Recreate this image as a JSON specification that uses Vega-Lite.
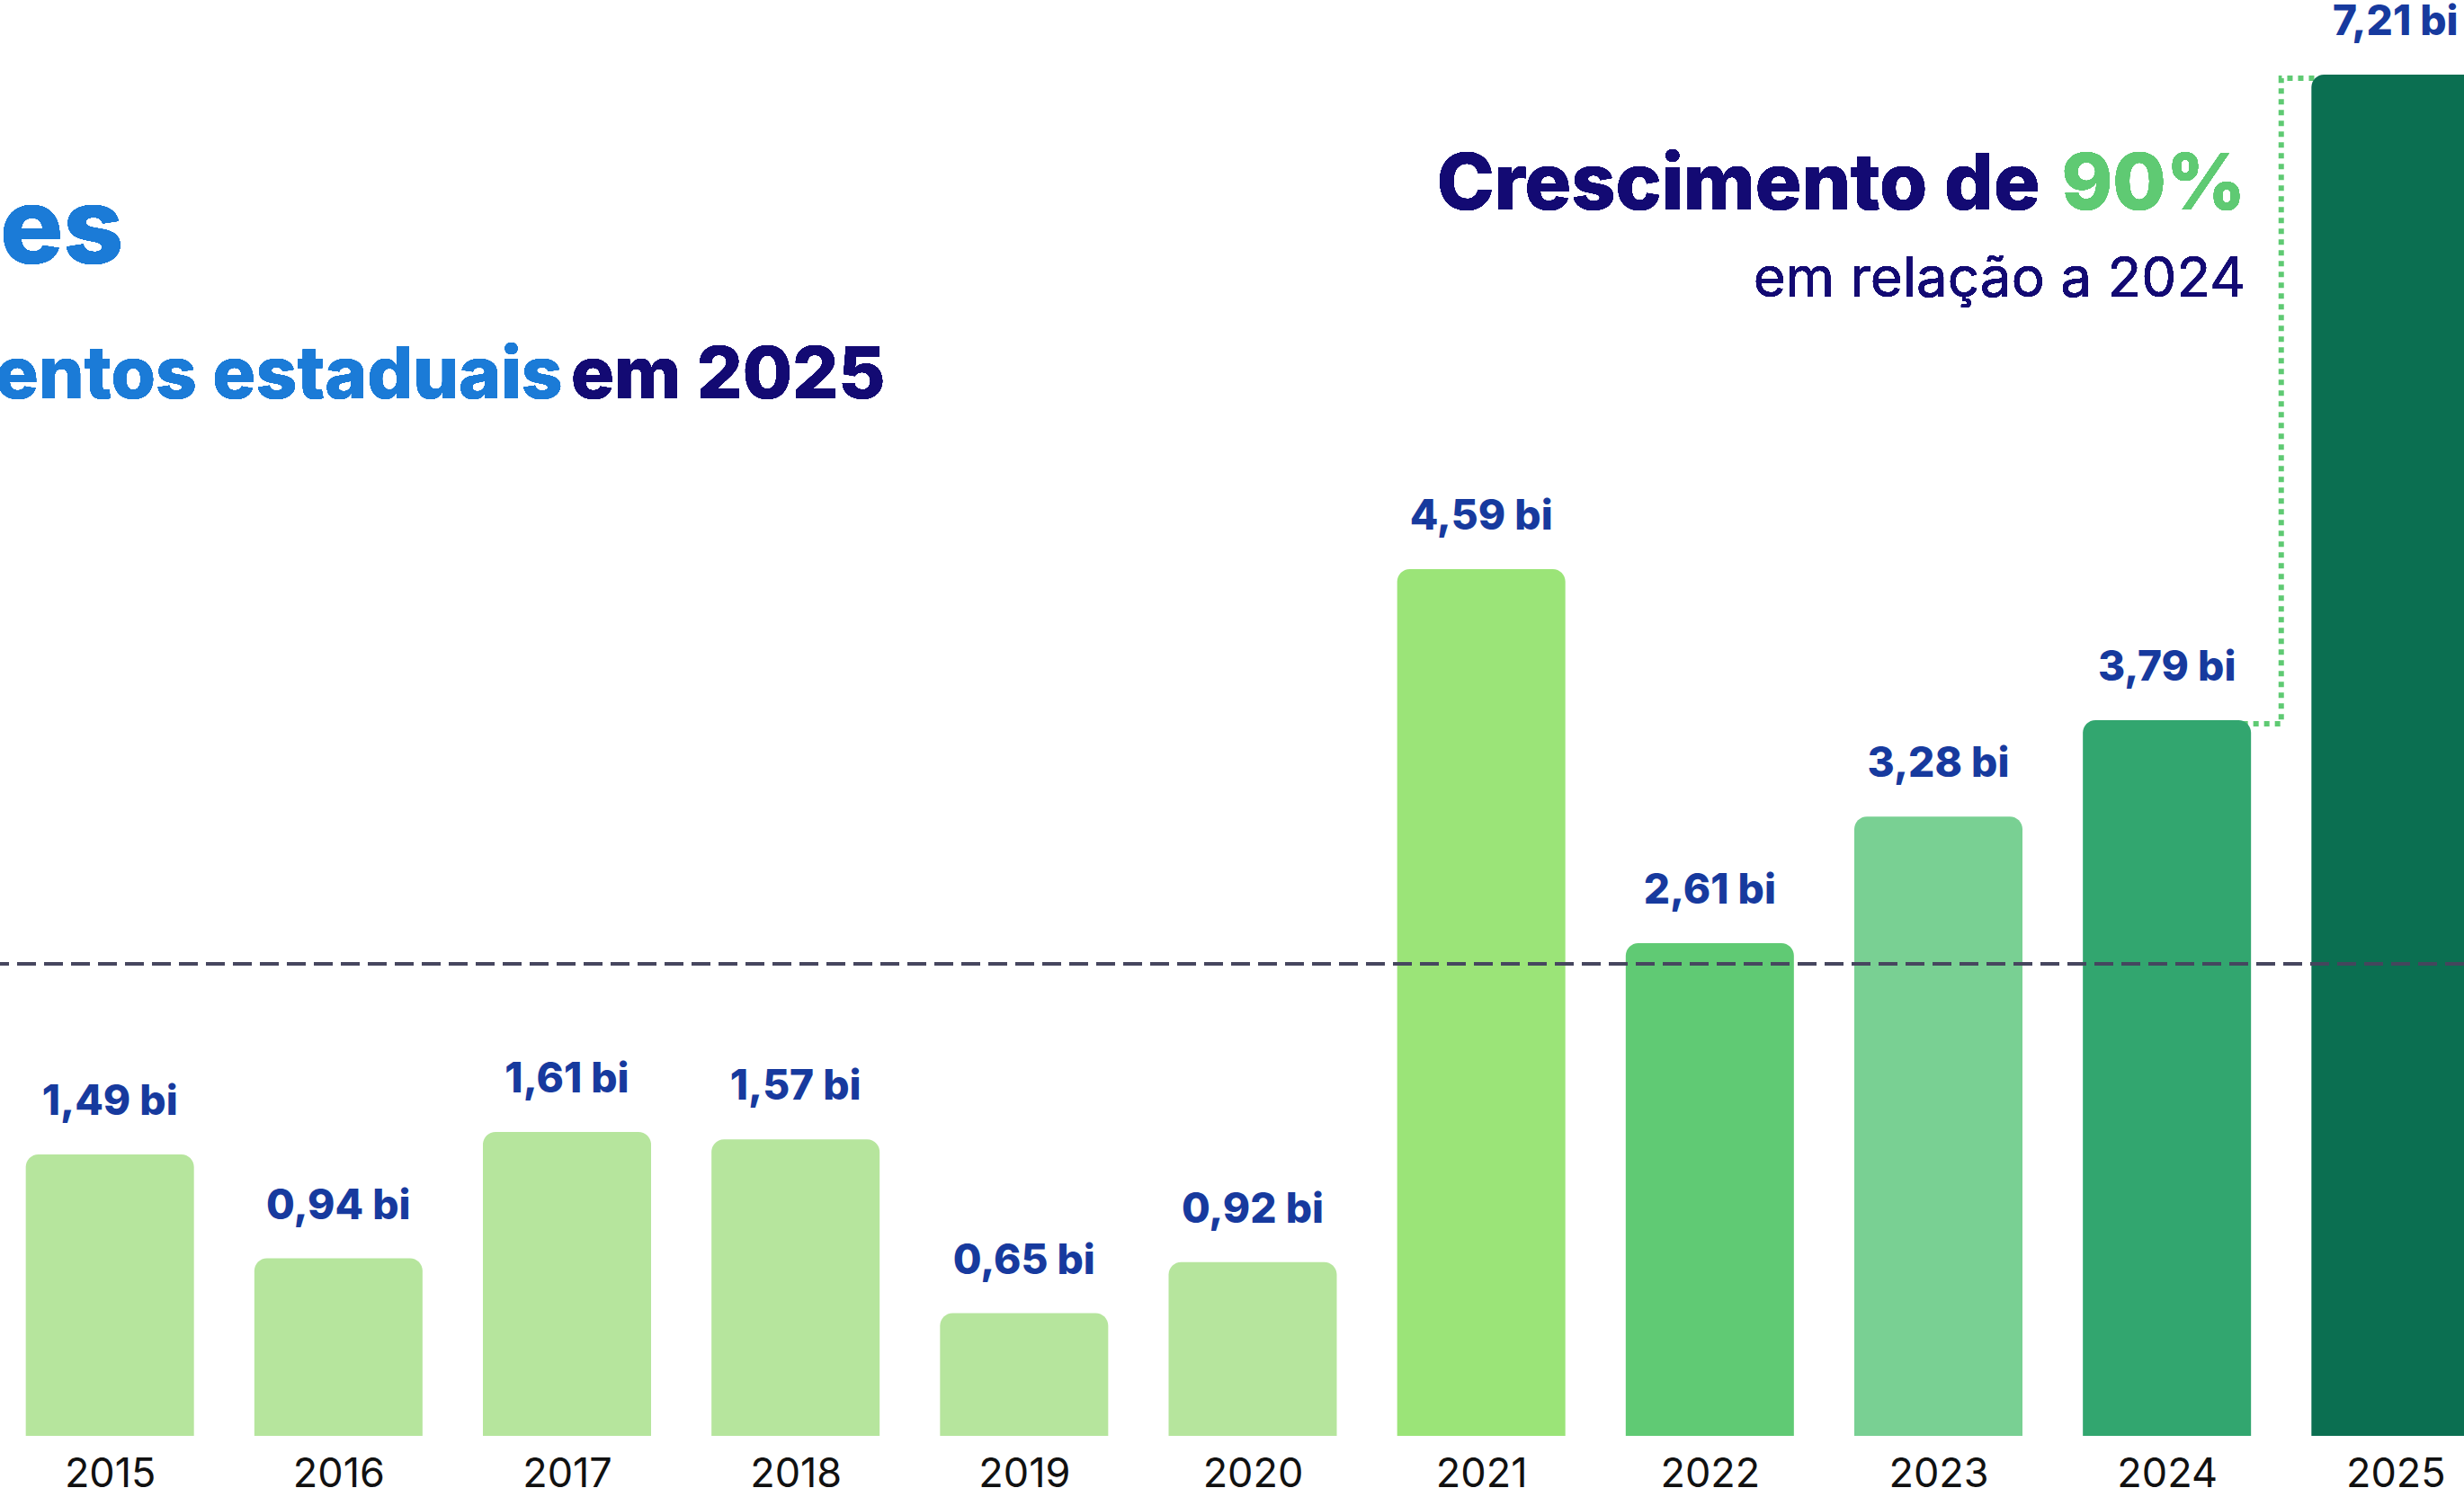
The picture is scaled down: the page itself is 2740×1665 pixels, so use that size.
{
  "$schema": "https://vega.github.io/schema/vega-lite/v6.json",
  "width": 2740,
  "height": 1665,
  "autosize": {"type": "none"},
  "padding": 0,
  "background": "#ffffff",
  "config": {"view": {"stroke": null}, "font": "Inter"},
  "datasets": {
    "invest": [
      {"year": 2015, "value": 1.49, "label": "1,49 bi"},
      {"year": 2016, "value": 0.94, "label": "0,94 bi"},
      {"year": 2017, "value": 1.61, "label": "1,61 bi"},
      {"year": 2018, "value": 1.57, "label": "1,57 bi"},
      {"year": 2019, "value": 0.65, "label": "0,65 bi"},
      {"year": 2020, "value": 0.92, "label": "0,92 bi"},
      {"year": 2021, "value": 4.59, "label": "4,59 bi"},
      {"year": 2022, "value": 2.61, "label": "2,61 bi"},
      {"year": 2023, "value": 3.28, "label": "3,28 bi"},
      {"year": 2024, "value": 3.79, "label": "3,79 bi"},
      {"year": 2025, "value": 7.21, "label": "7,21 bi"}
    ]
  },
  "data": {"name": "invest"},
  "layer": [
    {
      "transform": [{"filter": "datum.year >= 2024"}],
      "mark": {"type": "line", "interpolate": "step", "strokeDash": [6, 6], "strokeWidth": 6, "color": "#5fca73", "yOffset": 4},
      "encoding": {
        "x": {
          "field": "year",
          "type": "quantitative",
          "scale": {"domain": [2014.539, 2025.28], "nice": false, "zero": false},
          "axis": {
            "orient": "bottom",
            "offset": -68,
            "values": [2015, 2016, 2017, 2018, 2019, 2020, 2021, 2022, 2023, 2024, 2025],
            "format": "d",
            "title": null,
            "domain": false,
            "ticks": false,
            "grid": false,
            "labelFont": "Inter",
            "labelFontSize": 45,
            "labelColor": "#111111",
            "labelBaseline": "alphabetic",
            "labelPadding": 56,
            "labelFlush": false,
            "labelOverlap": false,
            "labelBound": false
          }
        },
        "y": {
          "field": "value",
          "type": "quantitative",
          "scale": {"domain": [-0.3238, 7.6048], "nice": false, "zero": false},
          "axis": null
        }
      }
    },
    {
      "mark": {"type": "bar", "width": 187, "cornerRadiusTopLeft": 14, "cornerRadiusTopRight": 14, "clip": true},
      "encoding": {
        "x": {"field": "year", "type": "quantitative"},
        "y": {"field": "value", "type": "quantitative"},
        "y2": {"datum": 0},
        "color": {
          "field": "year",
          "type": "ordinal",
          "legend": null,
          "scale": {
            "domain": [2015, 2016, 2017, 2018, 2019, 2020, 2021, 2022, 2023, 2024, 2025],
            "range": ["#b6e59d", "#b6e59d", "#b6e59d", "#b6e59d", "#b6e59d", "#b6e59d", "#9be478", "#60ca74", "#79d093", "#32a66f", "#0b6f51"]
          }
        }
      }
    },
    {
      "mark": {"type": "rule", "strokeDash": [21, 9], "strokeWidth": 3.5, "color": "#45455e", "strokeOpacity": 0.4},
      "encoding": {"y": {"datum": 2.5, "type": "quantitative"}}
    },
    {
      "mark": {"type": "text", "font": "Inter", "fontWeight": 800, "fontSize": 46, "color": "#173a9e", "baseline": "alphabetic", "align": "center", "dy": -44},
      "encoding": {
        "x": {"field": "year", "type": "quantitative"},
        "y": {"field": "value", "type": "quantitative"},
        "text": {"field": "label"}
      }
    },
    {
      "mark": {"type": "text", "text": "R$ 7,21 bilhões", "font": "Inter", "fontWeight": 800, "fontSize": 117, "color": "#1b7bd7", "align": "right", "baseline": "alphabetic"},
      "encoding": {"x": {"datum": 2015.06}, "y": {"datum": 6.2095}}
    },
    {
      "mark": {"type": "text", "text": "em investimentos estaduais", "font": "Inter", "fontWeight": 800, "fontSize": 80, "color": "#1b7bd7", "align": "right", "baseline": "alphabetic"},
      "encoding": {"x": {"datum": 2016.981}, "y": {"datum": 5.495}}
    },
    {
      "mark": {"type": "text", "text": "em 2025", "font": "Inter", "fontWeight": 800, "fontSize": 80, "color": "#130a73", "align": "right", "baseline": "alphabetic"},
      "encoding": {"x": {"datum": 2018.392}, "y": {"datum": 5.495}}
    },
    {
      "mark": {"type": "text", "text": "Crescimento de", "font": "Inter", "fontWeight": 800, "fontSize": 86, "color": "#130a73", "align": "right", "baseline": "alphabetic"},
      "encoding": {"x": {"datum": 2023.445}, "y": {"datum": 6.495}}
    },
    {
      "mark": {"type": "text", "text": "90%", "font": "Inter", "fontWeight": 800, "fontSize": 86, "color": "#5fca73", "align": "right", "baseline": "alphabetic"},
      "encoding": {"x": {"datum": 2024.345}, "y": {"datum": 6.495}}
    },
    {
      "mark": {"type": "text", "text": "em relação a 2024", "font": "Inter", "fontWeight": "normal", "fontSize": 62, "color": "#130a73", "align": "right", "baseline": "alphabetic"},
      "encoding": {"x": {"datum": 2024.345}, "y": {"datum": 6.033}}
    }
  ]
}
